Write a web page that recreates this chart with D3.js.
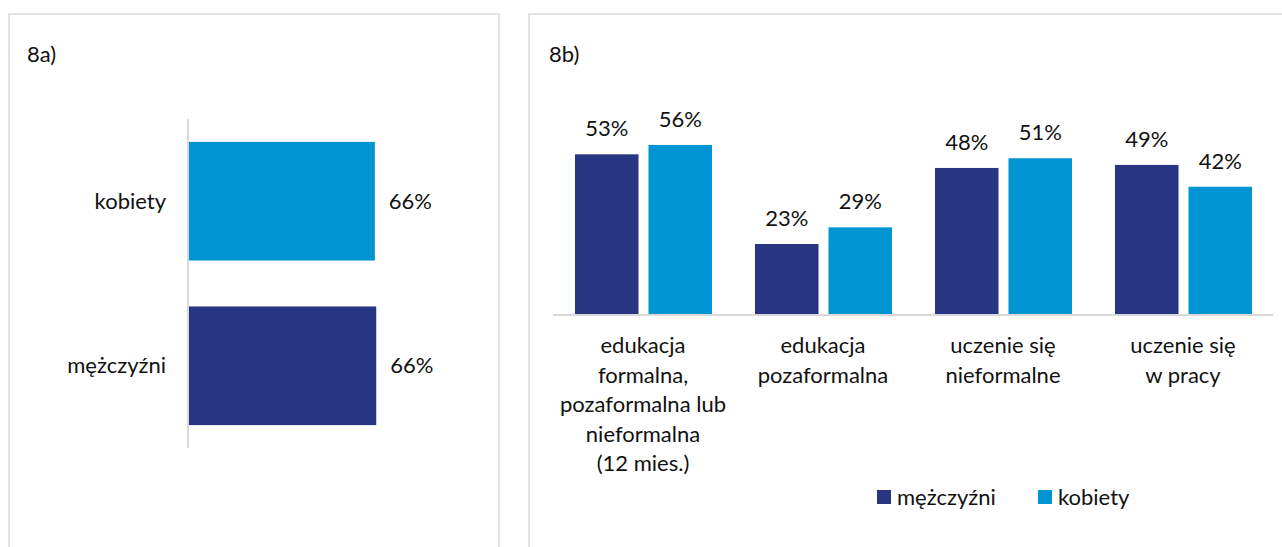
<!DOCTYPE html>
<html>
<head>
<meta charset="utf-8">
<script src="https://cdn.jsdelivr.net/npm/d3@7"></script>
<style>
  html, body { margin: 0; padding: 0; background: #fff; }
  svg { display: block; font-family: Lato, "Noto Sans", sans-serif; }
  .panel { fill: #fff; stroke: #e2e2e2; stroke-width: 2; }
  .axis-line { stroke: #d9d9d9; stroke-width: 2; }
  text { fill: #111; font-size: 22px; }
</style>
</head>
<body>
<svg id="chart" width="1282" height="547"></svg>
<script>
// panel 8a
const genders       = ['kobiety', 'mężczyźni'];
const genderValues  = [0.659, 0.664];

// panel 8b
const categories    = [
    ['edukacja', 'formalna,', 'pozaformalna lub', 'nieformalna', '(12 mies.)'],
    ['edukacja', 'pozaformalna'],
    ['uczenie się', 'nieformalne'],
    ['uczenie się', 'w pracy']
];
const series        = ['mężczyźni', 'kobiety'];
const menValues     = [0.527, 0.231, 0.482, 0.492];
const womenValues   = [0.558, 0.286, 0.514, 0.420];

const COLORS = { 'mężczyźni': '#283583', 'kobiety': '#0094d3' };
const pct = v => Math.round(v * 100) + '%';

const svg = d3.select('#chart');

// panel frames (bottom is cut off in the reference)
svg.append('rect').attr('class', 'panel').attr('x', 9).attr('y', 14).attr('width', 490).attr('height', 560);
svg.append('rect').attr('class', 'panel').attr('x', 529).attr('y', 14).attr('width', 760).attr('height', 560);

svg.append('text').attr('x', 27).attr('y', 62).text('8a)');
svg.append('text').attr('x', 549).attr('y', 62).text('8b)');

/* ---------- 8a: horizontal bars ---------- */
const xA = d3.scaleLinear().domain([0, 1]).range([189, 189 + 282]);
const yA = d3.scaleBand().domain(genders).range([119, 448]).paddingInner(0.279).paddingOuter(0.139);

const left = svg.append('g');

left.selectAll('rect.bar')
    .data(genders)
    .join('rect')
    .attr('class', 'bar')
    .attr('x', xA(0))
    .attr('y', d => yA(d))
    .attr('width', (d, i) => xA(genderValues[i]) - xA(0))
    .attr('height', yA.bandwidth())
    .attr('fill', d => COLORS[d]);

left.append('line')
    .attr('class', 'axis-line')
    .attr('x1', xA(0) - 1).attr('x2', xA(0) - 1)
    .attr('y1', 119).attr('y2', 448);

left.selectAll('text.cat')
    .data(genders)
    .join('text')
    .attr('class', 'cat')
    .attr('x', 166)
    .attr('y', d => yA(d) + yA.bandwidth() / 2)
    .attr('dy', '0.35em')
    .attr('text-anchor', 'end')
    .text(d => d);

left.selectAll('text.val')
    .data(genders)
    .join('text')
    .attr('class', 'val')
    .attr('x', (d, i) => xA(genderValues[i]) + 14)
    .attr('y', d => yA(d) + yA.bandwidth() / 2)
    .attr('dy', '0.35em')
    .text((d, i) => pct(genderValues[i]));

/* ---------- 8b: grouped columns ---------- */
const x0 = d3.scaleBand().domain(d3.range(categories.length)).range([553, 1273]);
const x1 = d3.scaleBand().domain(series).range([22, 159]).paddingInner(0.136);
const yB = d3.scaleLinear().domain([0, 1]).range([314, 314 - 303]);

const rows = categories.map((c, i) => ({
    i,
    values: [
        { key: 'mężczyźni', value: menValues[i] },
        { key: 'kobiety',   value: womenValues[i] }
    ]
}));

const right = svg.append('g');

const groups = right.selectAll('g.group')
    .data(rows)
    .join('g')
    .attr('class', 'group')
    .attr('transform', d => `translate(${x0(d.i)},0)`);

groups.selectAll('rect')
    .data(d => d.values)
    .join('rect')
    .attr('x', d => x1(d.key))
    .attr('y', d => yB(d.value))
    .attr('width', x1.bandwidth())
    .attr('height', d => yB(0) - yB(d.value))
    .attr('fill', d => COLORS[d.key]);

groups.selectAll('text.val')
    .data(d => d.values)
    .join('text')
    .attr('class', 'val')
    .attr('x', d => x1(d.key) + x1.bandwidth() / 2)
    .attr('y', d => yB(d.value) - 18)
    .attr('text-anchor', 'middle')
    .text(d => pct(d.value));

right.append('line')
    .attr('class', 'axis-line')
    .attr('x1', 553).attr('x2', 1273)
    .attr('y1', yB(0) + 1).attr('y2', yB(0) + 1);

// multi-line category labels
right.selectAll('text.cat')
    .data(categories)
    .join('text')
    .attr('class', 'cat')
    .attr('text-anchor', 'middle')
    .attr('transform', (d, i) => `translate(${x0(i) + x0.bandwidth() / 2},353)`)
    .selectAll('tspan')
    .data(d => d)
    .join('tspan')
    .attr('x', 0)
    .attr('y', (d, j) => j * 29.5)
    .text(d => d);

// legend
const legendX = [877, 1038];
const legend = right.selectAll('g.legend')
    .data(series)
    .join('g')
    .attr('class', 'legend')
    .attr('transform', (d, i) => `translate(${legendX[i]},490)`);

legend.append('rect')
    .attr('width', 14).attr('height', 14)
    .attr('fill', d => COLORS[d]);

legend.append('text')
    .attr('x', 20).attr('y', 7)
    .attr('dy', '0.35em')
    .text(d => d);
</script>
</body>
</html>
